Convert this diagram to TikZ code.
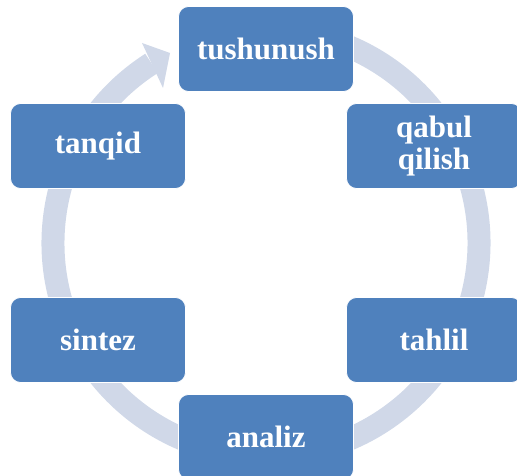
\documentclass[tikz,border=0pt]{standalone}
\usepackage{fontspec}
\setmainfont{Liberation Serif}
\definecolor{boxblue}{HTML}{4F81BD}
\definecolor{ringblue}{HTML}{D0D8E8}
\tikzset{
  stage/.style={rectangle, rounded corners=10pt, fill=boxblue, draw=white,
    line width=0.8pt, text=white, minimum width=175pt, minimum height=85pt,
    align=center, font=\fontsize{31}{32}\selectfont\bfseries},
  ring/.style={draw=ringblue, line width=23pt}
}
\begin{document}
\begin{tikzpicture}[x=1pt,y=1pt]
  \useasboundingbox (0,0) rectangle (517,475);
  \coordinate (c) at (266,232);
  % the cycle ring and its head
  \draw[ring] ([shift={(80:213pt)}]c) arc[start angle=80, end angle=-237.5, radius=213pt];
  \fill[ringblue] ([shift={(-124,200)}]c) -- ([shift={(-96,190)}]c)
    -- ([shift={(-103,155)}]c) -- cycle;
  % stages
  \node[stage] (tushunush) at ([shift={(90:194pt)}]c) {tushunush};
  \node[stage] (qabul) at ([shift={(30:194pt)}]c) {qabul\\qilish};
  \node[stage] (tahlil) at ([shift={(-30:194pt)}]c) {tahlil};
  \node[stage] (analiz) at ([shift={(-90:194pt)}]c) {analiz};
  \node[stage] (sintez) at ([shift={(210:194pt)}]c) {sintez};
  \node[stage] (tanqid) at ([shift={(150:194pt)}]c) {tanqid};
\end{tikzpicture}
\end{document}
